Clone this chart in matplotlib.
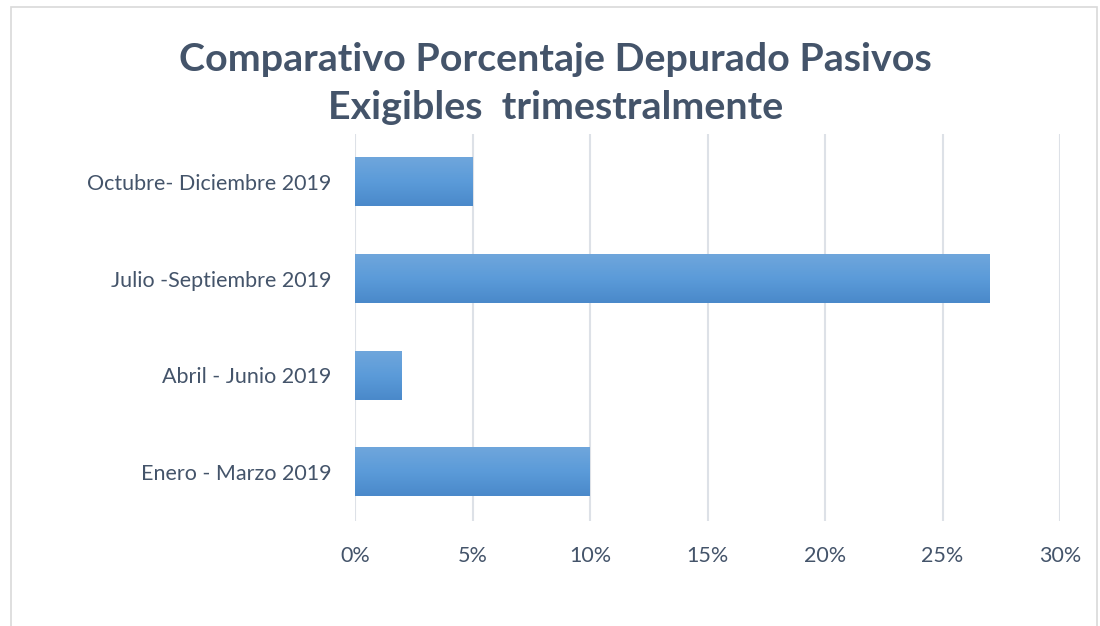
import numpy as np
import matplotlib.pyplot as plt
from matplotlib.patches import Rectangle
from matplotlib.colors import LinearSegmentedColormap
from matplotlib.ticker import FuncFormatter

plt.rcParams['font.family'] = ['Lato', 'DejaVu Sans']

periodos = ['Enero - Marzo 2019', 'Abril - Junio 2019',
            'Julio -Septiembre 2019', 'Octubre- Diciembre 2019']
porcentajes = [10, 2, 27, 5]
ticks_x = [0, 5, 10, 15, 20, 25, 30]

texto = '#44546A'
grid = '#DDE1E7'

fig = plt.figure(figsize=(11, 6.26), dpi=100)
fig.patches.append(Rectangle((11 / 1100, -0.05), 1086 / 1100, 1.05 - 7 / 626,
                             transform=fig.transFigure, fill=False,
                             edgecolor='#D9D9D9', linewidth=1.2))

ax = fig.add_axes([355 / 1100, 105.5 / 626, 705 / 1100, 387 / 626])
y = np.arange(len(periodos))
alto = 0.5
bars = ax.barh(y, porcentajes, height=alto, color='none')

cmap = LinearSegmentedColormap.from_list('g', ['#4a89ca', '#5b9bd9', '#6fa6dc'])
grad = np.linspace(0, 1, 100).reshape(-1, 1)
for b in bars:
    x0, y0 = b.get_x(), b.get_y()
    w, h = b.get_width(), b.get_height()
    ax.imshow(grad, cmap=cmap, aspect='auto', origin='lower',
              extent=[x0, x0 + w, y0, y0 + h], zorder=2)

ax.set_xlim(0, 30)
ax.set_ylim(-0.5, len(periodos) - 0.5)
ax.set_xticks(ticks_x)
ax.xaxis.set_major_formatter(FuncFormatter(lambda v, p: f'{v:.0f}%'))
ax.set_yticks(y)
ax.set_yticklabels(periodos)
ax.grid(axis='x', color=grid, linewidth=1.5, zorder=0)
ax.set_axisbelow(True)
for s in ax.spines.values():
    s.set_visible(False)
ax.tick_params(length=0, labelsize=15.5, labelcolor=texto)
ax.tick_params(axis='x', pad=18)
ax.tick_params(axis='y', pad=17)

fig.text(0.505, 0.866, 'Comparativo Porcentaje Depurado Pasivos\nExigibles  trimestralmente',
         ha='center', va='center', fontsize=28.4, fontweight='bold', color=texto,
         linespacing=1.45)

fig.savefig('out.png', dpi=100)
